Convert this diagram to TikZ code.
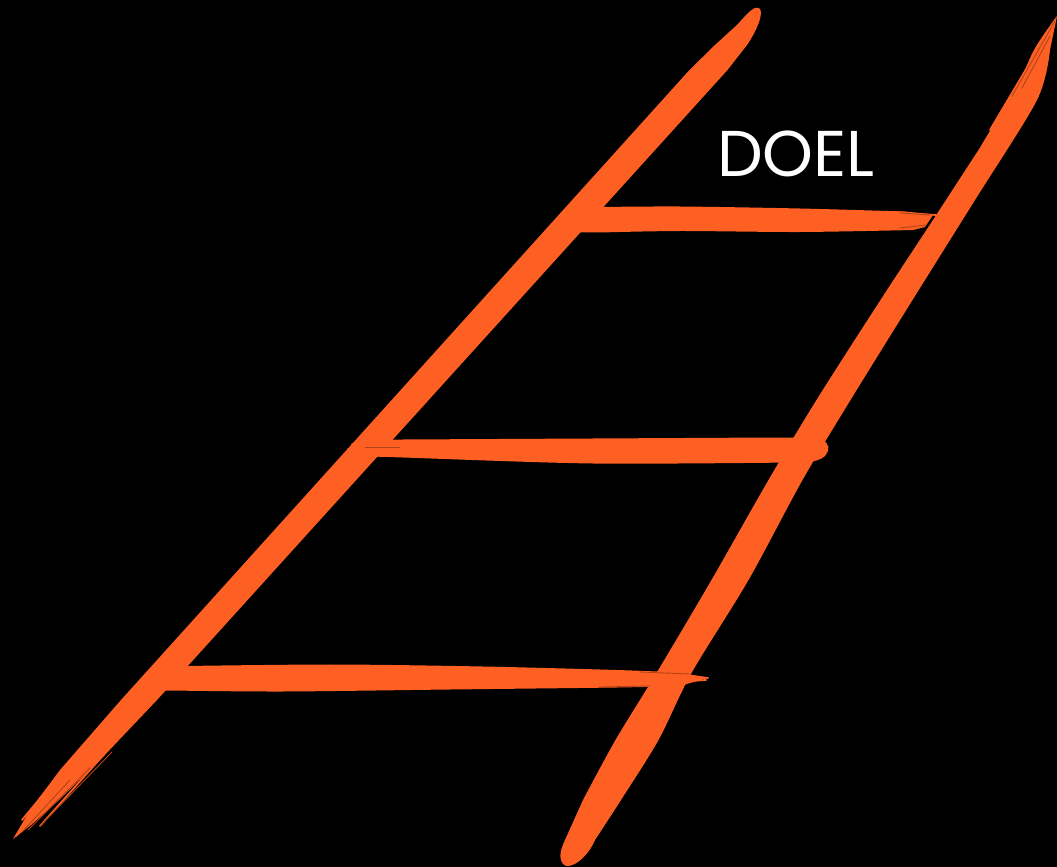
\documentclass[tikz,border=0pt]{standalone}
\usepackage{fontspec}
\newfontfamily\doelfont{Poppins}
\definecolor{ladderorange}{RGB}{254,96,35}
\tikzset{
  brush/.style={fill=ladderorange},
  streak/.style={draw=ladderorange!70!black, line width=0.25pt, line cap=round},
  streaklight/.style={draw=ladderorange, line width=0.5pt, line cap=round},
  label/.style={text=white, inner sep=0pt, font=\doelfont\fontsize{18.4}{22}\selectfont}
}
\begin{document}
\begin{tikzpicture}[x=0.01cm,y=-0.01cm]
\useasboundingbox (0,0) rectangle (1057,867);
\fill[black] (0,0) rectangle (1057,867);

% ---- left rail ----
\fill[brush] (738,24) .. controls (749,11) and (755,6) .. (759,8)
  .. controls (765,12) and (756,32) .. (747,45)
  -- (727.5,70) -- (157,700) -- (100,760) -- (59,800) -- (31,825) -- (13,839)
  -- (30,810) -- (60,770) -- (121,700) -- (689.5,70) -- (715,45) -- cycle;
% brushy tail of the left rail
\draw[streaklight] (120,714) -- (16,836);
\draw[streaklight] (100,726) -- (22,820);
\draw[streaklight] (142,712) -- (40,826);
\draw[streak] (112,752) -- (40,826);
\draw[streak] (90,768) -- (28,830);
\draw[streak] (70,780) -- (22,832);

% ---- right rail ----
\fill[brush] (1057,16) --
  plot[smooth] coordinates {(1050,50) (1037,100) (975,200) (912.5,300) (850.5,400) (802.5,480) (748.5,580) (691.5,673) (658.5,740) (621,800) (595,840)}
  .. controls (587,859) and (569,871) .. (563,864)
  .. controls (558,857) and (561,849) .. (565,840)
  -- plot[smooth] coordinates {(583,800) (615.5,740) (656.5,673) (711.5,580) (768.5,480) (816.5,400) (880.5,300) (946,200) (1010,100) (1034,50) (1054,20)}
  -- cycle;
% brushy top of the right rail
\draw[streaklight] (1054,22) -- (990,130);
\draw[streaklight] (1051,30) -- (982,146);
\draw[streak] (1055,21) -- (1012,96);
\draw[streak] (1050,36) -- (1022,88);

% ---- rung 1 ----
\fill[brush] (588,207.5) --
  plot[smooth] coordinates {(600,207) (680,206.5) (800,208.5) (905,211.5)}
  -- (933,215) -- (925,227) -- (913,230) --
  plot[smooth] coordinates {(913,230) (800,232) (680,231) (600,232.5)}
  -- (570,232.5) -- cycle;
\draw[streaklight] (895,212) -- (936,215);
\draw[streak] (900,213) -- (930,215);
\draw[streak] (900,228) -- (926,225);

% ---- rung 2 ----
\fill[brush] (380,440) --
  plot[smooth] coordinates {(403,439.5) (593,438.5) (793,437.5) (815,438.5)}
  .. controls (826,438.5) and (830,446) .. (828,451)
  .. controls (826,458) and (818,460.5) .. (810,462) --
  plot[smooth] coordinates {(793,462.5) (593,463.5) (403,457.5) (372,456.5)}
  -- cycle;
\draw[streaklight] (348,449) -- (400,449);
\draw[streaklight] (352,444) -- (405,443);
\draw[streaklight] (356,455) -- (405,456);
\draw[streak] (365,447) -- (400,447);

% ---- rung 3 ----
\fill[brush] (175,666.5) --
  plot[smooth] coordinates {(185,666) (333,664.5) (483,666.5) (617,670) (680,672.5)}
  -- (708,678) -- (685,684.5) --
  plot[smooth] coordinates {(660,686.5) (617,687.5) (450,689.5) (283,691.5) (170,690.5)}
  -- (155,690.5) -- cycle;
\draw[streaklight] (670,673) -- (708,678);
\draw[streaklight] (675,682) -- (706,680);
\draw[streak] (640,672) -- (690,674);
\draw[streak] (600,687) -- (650,686);

% ---- label ----
\node[label, anchor=base] (doel) at (796,177) {DOEL};
\end{tikzpicture}
\end{document}
